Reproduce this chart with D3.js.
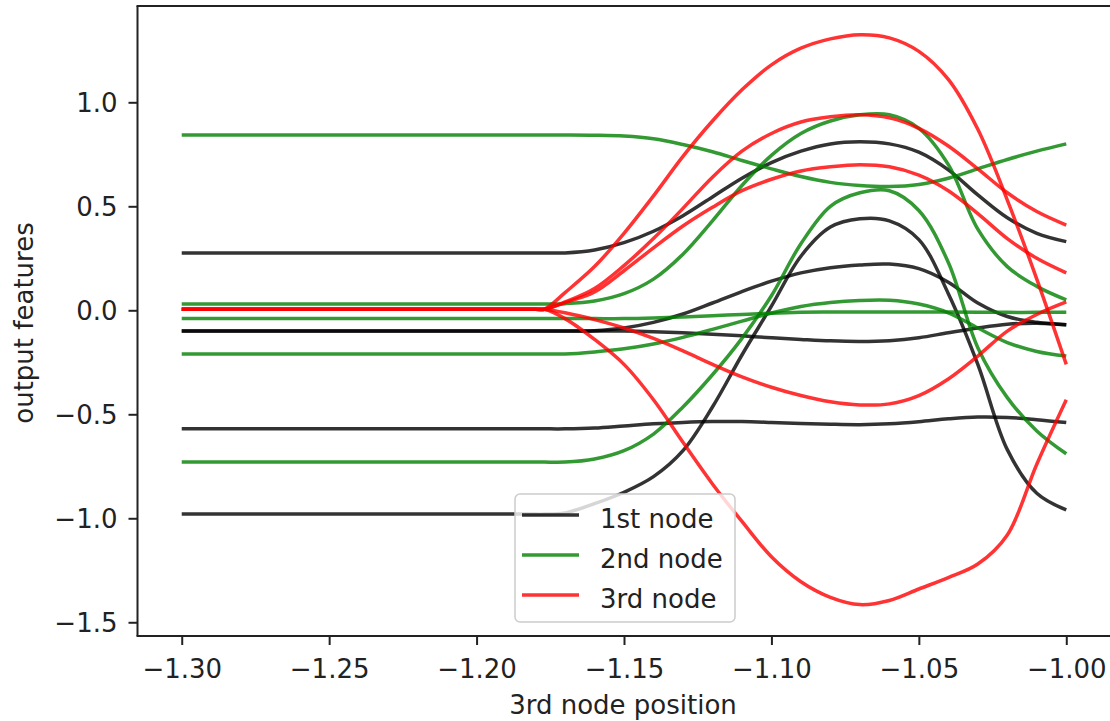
<!DOCTYPE html>
<html>
<head>
<meta charset="utf-8">
<script src="https://cdn.jsdelivr.net/npm/d3@7"></script>
<style>
  html, body { margin: 0; padding: 0; background: #ffffff; }
  svg { display: block; }
  text { font-family: "DejaVu Sans", sans-serif; fill: #222222; }
</style>
</head>
<body>
<svg id="chart" width="1110" height="721"></svg>
<script>
// Positions of the 3rd node at which the output features were evaluated
const positions = [-1.30, -1.19, -1.18, -1.177, -1.17, -1.16, -1.15, -1.14, -1.13, -1.12, -1.11, -1.10,
                   -1.09, -1.08, -1.07, -1.06, -1.05, -1.04, -1.03, -1.02, -1.01, -1.00];

// Output features of the 1st node (one array per feature)
const firstNode = [
  [0.275, 0.275, 0.275, 0.275, 0.276, 0.29, 0.325, 0.38, 0.455, 0.545, 0.635, 0.71, 0.765, 0.80, 0.81, 0.80, 0.76, 0.675, 0.555, 0.445, 0.37, 0.33],
  [-0.10, -0.10, -0.10, -0.10, -0.10, -0.098, -0.085, -0.058, -0.018, 0.035, 0.09, 0.14, 0.18, 0.205, 0.218, 0.222, 0.20, 0.135, 0.035, -0.03, -0.058, -0.07],
  [-0.10, -0.10, -0.10, -0.10, -0.10, -0.10, -0.10, -0.103, -0.108, -0.115, -0.123, -0.132, -0.14, -0.147, -0.15, -0.146, -0.132, -0.108, -0.085, -0.067, -0.062, -0.07],
  [-0.57, -0.57, -0.57, -0.57, -0.57, -0.566, -0.556, -0.546, -0.539, -0.535, -0.535, -0.539, -0.544, -0.548, -0.55, -0.546, -0.536, -0.522, -0.513, -0.515, -0.526, -0.54],
  [-0.98, -0.98, -0.98, -0.98, -0.974, -0.93, -0.875, -0.80, -0.675, -0.465, -0.215, 0.02, 0.26, 0.40, 0.44, 0.43, 0.34, 0.08, -0.26, -0.67, -0.88, -0.96]
];

// Output features of the 2nd node
const secondNode = [
  [0.843, 0.843, 0.843, 0.843, 0.843, 0.842, 0.838, 0.825, 0.797, 0.762, 0.72, 0.68, 0.643, 0.615, 0.60, 0.595, 0.605, 0.635, 0.68, 0.725, 0.765, 0.80],
  [0.03, 0.03, 0.03, 0.03, 0.032, 0.045, 0.08, 0.15, 0.27, 0.43, 0.60, 0.745, 0.85, 0.91, 0.94, 0.94, 0.875, 0.70, 0.39, 0.21, 0.115, 0.05],
  [-0.04, -0.04, -0.04, -0.04, -0.04, -0.04, -0.04, -0.037, -0.032, -0.026, -0.02, -0.014, -0.01, -0.008, -0.008, -0.008, -0.008, -0.008, -0.009, -0.01, -0.01, -0.01],
  [-0.21, -0.21, -0.21, -0.21, -0.21, -0.20, -0.185, -0.162, -0.13, -0.092, -0.052, -0.013, 0.018, 0.037, 0.047, 0.048, 0.03, -0.012, -0.085, -0.155, -0.198, -0.22],
  [-0.73, -0.73, -0.73, -0.73, -0.73, -0.715, -0.675, -0.595, -0.465, -0.31, -0.135, 0.07, 0.32, 0.50, 0.565, 0.575, 0.48, 0.23, -0.18, -0.42, -0.58, -0.69]
];

// Output features of the 3rd node
const thirdNode = [
  [0.005, 0.005, 0.005, 0.005, 0.085, 0.21, 0.37, 0.55, 0.74, 0.91, 1.06, 1.18, 1.26, 1.305, 1.325, 1.31, 1.245, 1.11, 0.87, 0.53, 0.15, -0.26],
  [0.005, 0.005, 0.005, 0.005, 0.04, 0.105, 0.215, 0.345, 0.49, 0.64, 0.765, 0.85, 0.905, 0.93, 0.94, 0.925, 0.875, 0.79, 0.68, 0.565, 0.475, 0.41],
  [0.005, 0.005, 0.005, 0.005, 0.037, 0.088, 0.19, 0.30, 0.405, 0.495, 0.575, 0.63, 0.67, 0.69, 0.70, 0.69, 0.65, 0.575, 0.465, 0.345, 0.25, 0.18],
  [0.005, 0.005, 0.005, 0.005, -0.012, -0.045, -0.085, -0.135, -0.195, -0.26, -0.32, -0.37, -0.41, -0.44, -0.455, -0.45, -0.41, -0.33, -0.22, -0.10, -0.02, 0.04],
  [0.005, 0.005, 0.005, 0.005, -0.04, -0.14, -0.26, -0.43, -0.635, -0.835, -1.015, -1.185, -1.305, -1.38, -1.415, -1.395, -1.34, -1.285, -1.22, -1.08, -0.74, -0.43]
];

const nodeLabels = ["1st node", "2nd node", "3rd node"];
const xTicks = [-1.30, -1.25, -1.20, -1.15, -1.10, -1.05, -1.00];
const yTicks = [-1.5, -1.0, -0.5, 0.0, 0.5, 1.0];

// Styling
const nodeColors = ["#000000", "#008000", "#ff0000"];
const lineWidth = 3.5;
const lineAlpha = 0.8;
const fontSize = 26;

const svg = d3.select("#chart");
const plot = { left: 137.5, right: 1110.5, top: 6, bottom: 636 };

const x = d3.scaleLinear().domain([-1.315, -0.985]).range([plot.left, plot.right]);
const y = d3.scaleLinear().domain([-1.566, 1.463]).range([plot.bottom, plot.top]);

svg.append("rect").attr("width", 1110).attr("height", 721).attr("fill", "#ffffff");

svg.append("defs").append("clipPath").attr("id", "plot-clip")
  .append("rect")
  .attr("x", plot.left).attr("y", plot.top)
  .attr("width", plot.right - plot.left).attr("height", plot.bottom - plot.top);

const line = d3.line()
  .x(d => x(d[0]))
  .y(d => y(d[1]))
  .curve(d3.curveCatmullRom.alpha(0.5));

const nodes = [firstNode, secondNode, thirdNode];
const curves = svg.append("g").attr("clip-path", "url(#plot-clip)");

nodes.forEach((features, n) => {
  features.forEach(values => {
    curves.append("path")
      .datum(positions.map((p, i) => [p, values[i]]))
      .attr("d", line)
      .attr("fill", "none")
      .attr("stroke", nodeColors[n])
      .attr("stroke-opacity", lineAlpha)
      .attr("stroke-width", lineWidth)
      .attr("stroke-linejoin", "round")
      .attr("stroke-linecap", "butt");
  });
});

// Axes
const xAxis = d3.axisBottom(x).tickValues(xTicks).tickFormat(d3.format(".2f"))
  .tickSize(9).tickPadding(10);
const yAxis = d3.axisLeft(y).tickValues(yTicks).tickFormat(d3.format(".1f"))
  .tickSize(9).tickPadding(10);

const gx = svg.append("g").attr("transform", `translate(0,${plot.bottom})`).call(xAxis);
const gy = svg.append("g").attr("transform", `translate(${plot.left},0)`).call(yAxis);

[gx, gy].forEach(g => {
  g.select(".domain").remove();
  g.selectAll(".tick line").attr("stroke", "#222222").attr("stroke-width", 2);
  g.selectAll(".tick text")
    .attr("fill", "#222222")
    .style("font-family", "'DejaVu Sans', sans-serif")
    .style("font-size", fontSize + "px");
});
gx.selectAll(".tick text").attr("dy", null).attr("y", 42);
gy.selectAll(".tick text").attr("dy", null).attr("x", -20).attr("y", 9.5);

// Frame (the right edge of the axes lies at the border of the figure)
const frame = svg.append("g").attr("stroke", "#222222").attr("stroke-width", 2).attr("fill", "none");
frame.append("line").attr("x1", plot.left).attr("x2", plot.left).attr("y1", plot.top).attr("y2", plot.bottom);
frame.append("line").attr("x1", plot.left - 1).attr("x2", plot.right).attr("y1", plot.bottom).attr("y2", plot.bottom);
frame.append("line").attr("x1", plot.left - 1).attr("x2", plot.right).attr("y1", plot.top).attr("y2", plot.top);

// Axis titles
svg.append("text")
  .attr("x", (plot.left + plot.right) / 2 - 1)
  .attr("y", 714)
  .attr("text-anchor", "middle")
  .style("font-size", fontSize + "px")
  .text("3rd node position");

svg.append("text")
  .attr("transform", `translate(33,${(plot.top + plot.bottom) / 2 + 2}) rotate(-90)`)
  .attr("text-anchor", "middle")
  .style("font-size", fontSize + "px")
  .text("output features");

// Legend
const legend = svg.append("g").attr("transform", "translate(515,494)");
legend.append("rect")
  .attr("x", 0).attr("y", 0).attr("width", 220).attr("height", 128)
  .attr("rx", 5).attr("ry", 5)
  .attr("fill", "#ffffff").attr("fill-opacity", 0.8)
  .attr("stroke", "#cccccc").attr("stroke-width", 1.5);

nodeLabels.forEach((label, i) => {
  const rowY = 21 + i * 40;
  legend.append("line")
    .attr("x1", 7).attr("x2", 64).attr("y1", rowY).attr("y2", rowY)
    .attr("stroke", nodeColors[i]).attr("stroke-opacity", lineAlpha)
    .attr("stroke-width", lineWidth);
  legend.append("text")
    .attr("x", 85).attr("y", rowY + 13)
    .style("font-size", fontSize + "px")
    .text(label);
});
</script>
</body>
</html>
